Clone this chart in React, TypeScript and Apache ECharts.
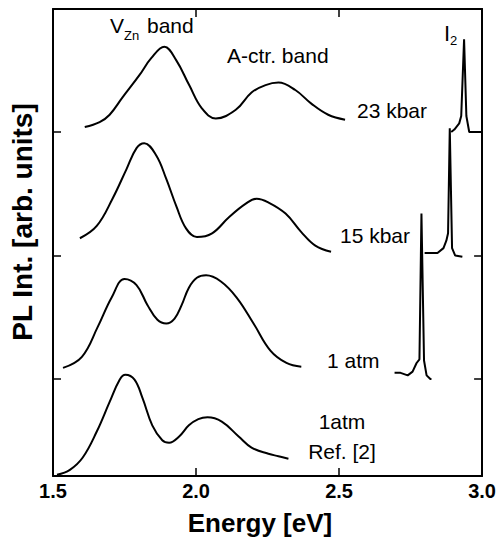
import { useEffect, useRef } from "react";
import * as echarts from "echarts";

// Energy axis (eV)
const energyMin = 1.5;
const energyMax = 3.0;
const energyStep = 0.5;

// Vertical offsets (baselines) of the stacked spectra: Ref [2], 1 atm, 15 kbar, 23 kbar
const baselines = [0, 0.785, 1.785, 2.785];
const intensityMax = 3.781;

// Spectra as [energy eV, intensity above own baseline]
const ref1atm: number[][] = [
  [1.514, 0.01], [1.559, 0.05], [1.604, 0.15], [1.653, 0.36], [1.698, 0.6], [1.733, 0.78],
  [1.753, 0.82], [1.785, 0.78], [1.813, 0.63], [1.847, 0.41], [1.882, 0.29], [1.906, 0.27],
  [1.941, 0.32], [1.975, 0.41], [2.008, 0.46], [2.04, 0.475], [2.09, 0.44], [2.149, 0.32],
  [2.194, 0.23], [2.253, 0.18], [2.288, 0.16], [2.323, 0.14],
];
const band1atm: number[][] = [
  [1.535, 0.09], [1.601, 0.18], [1.656, 0.42], [1.705, 0.66], [1.75, 0.81], [1.792, 0.76],
  [1.83, 0.6], [1.865, 0.48], [1.896, 0.45], [1.925, 0.49], [1.95, 0.6], [1.975, 0.74],
  [2.003, 0.82], [2.035, 0.84], [2.087, 0.79], [2.142, 0.66], [2.201, 0.45], [2.26, 0.23],
  [2.316, 0.13], [2.368, 0.1],
];
const i2_1atm: number[][] = [
  [2.694, 0.05], [2.715, 0.05], [2.74, 0.03], [2.757, 0.06], [2.771, 0.13], [2.781, 0.16],
  [2.788, 1.34], [2.797, 0.15], [2.806, 0.03], [2.819, 0], [2.823, 0],
];
const band15kbar: number[][] = [
  [1.594, 0.14], [1.653, 0.24], [1.708, 0.46], [1.757, 0.7], [1.792, 0.87], [1.819, 0.91],
  [1.861, 0.81], [1.896, 0.62], [1.931, 0.4], [1.965, 0.22], [2.003, 0.15], [2.056, 0.18],
  [2.115, 0.31], [2.174, 0.42], [2.212, 0.46], [2.253, 0.43], [2.313, 0.34], [2.368, 0.19],
  [2.417, 0.08], [2.472, 0.03],
];
const i2_15kbar: number[][] = [
  [2.799, 0.02], [2.844, 0.02], [2.865, 0.06], [2.875, 0.12], [2.881, 0.18], [2.887, 1.03],
  [2.895, 0.06], [2.906, 0.0], [2.931, -0.01],
];
const band23kbar: number[][] = [
  [1.611, 0.04], [1.663, 0.08], [1.698, 0.14], [1.743, 0.28], [1.802, 0.46], [1.844, 0.6],
  [1.889, 0.69], [1.931, 0.58], [1.976, 0.38], [2.021, 0.19], [2.069, 0.11], [2.139, 0.18],
  [2.194, 0.32], [2.243, 0.38], [2.288, 0.4], [2.347, 0.34], [2.403, 0.23], [2.462, 0.14],
  [2.521, 0.1],
];
const i2_23kbar: number[][] = [
  [2.892, 0], [2.903, 0.02], [2.92, 0.07], [2.927, 0.13], [2.937, 0.75], [2.945, 0.13],
  [2.955, 0.0], [2.997, 0],
];

const xTitle = "Energy [eV]";
const yTitle = "PL Int. [arb. units]";
const FONT = "'Liberation Sans', Arial, Helvetica, sans-serif";

function shift(points: number[][], base: number) {
  return points.map(([e, v]) => [e, v + base]);
}

function lineSeries(points: number[][], base: number, smooth: number | boolean) {
  return {
    type: "line",
    data: shift(points, base),
    showSymbol: false,
    symbol: "none",
    smooth,
    silent: true,
    lineStyle: { color: "#000", width: 2 },
    xAxisIndex: 0,
    yAxisIndex: 0,
  };
}

function txt(text: string, x: number, y: number, size: number, align = "left", bold = false) {
  return {
    type: "text",
    x,
    y,
    silent: true,
    style: {
      text,
      fill: "#000",
      fontSize: size,
      fontFamily: FONT,
      fontWeight: bold ? "bold" : "normal",
      align,
      verticalAlign: "middle",
    },
  };
}

export default function App() {
  const ref = useRef<HTMLDivElement>(null);
  useEffect(() => {
    document.body.style.margin = "0";
    if (!ref.current) return;
    const chart = echarts.init(ref.current, undefined, { renderer: "svg" });
    const axisLine = { show: true, onZero: false, lineStyle: { color: "#000", width: 2 } };
    const tick = { show: true, inside: true, length: 8, lineStyle: { color: "#000", width: 1.5 } };
    const xCommon = {
      type: "value",
      min: energyMin,
      max: energyMax,
      interval: energyStep,
      axisLine,
      axisTick: tick,
      splitLine: { show: false },
    };
    const yCommon = {
      type: "value",
      min: 0,
      max: intensityMax,
      axisLine,
      axisTick: { ...tick, customValues: baselines.slice(1) },
      axisLabel: { show: false },
      splitLine: { show: false },
    };
    const option = {
      animation: false,
      backgroundColor: "#fff",
      grid: { left: 53, right: 14, top: 9, bottom: 63, containLabel: false },
      xAxis: [
        {
          ...xCommon,
          position: "bottom",
          axisLabel: {
            show: true,
            margin: 5,
            color: "#000",
            fontSize: 20,
            fontWeight: "bold",
            fontFamily: FONT,
            formatter: (v: number) => v.toFixed(1),
          },
        },
        { ...xCommon, position: "top", axisLabel: { show: false } },
      ],
      yAxis: [
        { ...yCommon, position: "left" },
        { ...yCommon, position: "right" },
      ],
      series: [
        lineSeries(ref1atm, baselines[0], 0.4),
        lineSeries(band1atm, baselines[1], 0.4),
        lineSeries(i2_1atm, baselines[1], false),
        lineSeries(band15kbar, baselines[2], 0.4),
        lineSeries(i2_15kbar, baselines[2], false),
        lineSeries(band23kbar, baselines[3], 0.4),
        lineSeries(i2_23kbar, baselines[3], false),
      ],
      graphic: [
        txt("V", 110, 25, 21),
        txt("Zn", 124, 35, 13),
        txt("band", 147, 25, 21),
        txt("A-ctr. band", 227, 55, 21),
        txt("I", 444, 33, 22),
        txt("2", 450, 40, 13),
        txt("23 kbar", 357, 110, 21),
        txt("15 kbar", 340, 235, 21),
        txt("1 atm", 327, 360, 21),
        txt("1atm", 342, 421, 21, "center"),
        txt("Ref. [2]", 342, 451, 21, "center"),
        txt(xTitle, 260, 523, 26, "center", true),
        {
          ...txt(yTitle, 0, 0, 28, "center", true),
          x: 22,
          y: 222,
          rotation: Math.PI / 2,
        },
      ],
    };
    chart.setOption(option as any);
    return () => chart.dispose();
  }, []);
  return <div ref={ref} style={{ width: 499, height: 539 }} />;
}
